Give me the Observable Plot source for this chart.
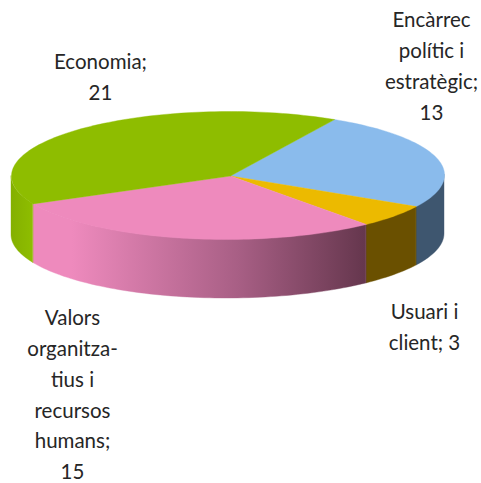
<!DOCTYPE html>
<html>
<head>
<meta charset="utf-8">
<script src="https://cdn.jsdelivr.net/npm/d3@7"></script>
<script src="https://cdn.jsdelivr.net/npm/@observablehq/plot@0.6"></script>
<style>html,body{margin:0;padding:0;background:#fff}svg{display:block}</style>
</head>
<body>
<div id="chart"></div>
<script>
// Data, in drawing order clockwise from the start angle
const categories = ["Encàrrec polític i estratègic", "Usuari i client", "Valors organitza-tius i recursos humans", "Economia"];
const values = [13, 3, 15, 21];
const topColors = ["#8abbec", "#ecba00", "#ee8abd", "#8ebd00"];
const wallColors = ["#3e566f", "#6a5000", "url(#pinkWall)", "url(#greenWall)"];
const labelTexts = [
  "Encàrrec\npolític i\nestratègic;\n13",
  "Usuari i\nclient; 3",
  "Valors\norganitza-\ntius i\nrecursos\nhumans;\n15",
  "Economia;\n21"
];
const labelX = [431, 424, 72, 100];
const labelY = [5, 297, 303, 47];

// View of the 3D pie
const W = 481, H = 483;
const cx = 227.5, cy = 175, rx = 216.5, ry = 64, depth = 59, skew = 0.5, startDeg = 29.5;
const rad = d => d * Math.PI / 180;
const rimX = d => cx + rx * Math.sin(rad(d));
const rimY = d => cy - ry * Math.cos(rad(d)) - skew * Math.sin(rad(d));

const total = d3.sum(values);
let acc = 0;
const slices = values.map((v, i) => {
  const a0 = startDeg + acc / total * 360;
  acc += v;
  const a1 = startDeg + acc / total * 360;
  return {i, a0, a1};
});
const arc = (a0, a1) => {
  const n = Math.max(2, Math.ceil((a1 - a0) / 1.5));
  return d3.range(n + 1).map(k => a0 + (a1 - a0) * k / n);
};

const marks = [];
marks.push(() => {
  const defs = d3.create("svg:defs");
  const grad = (id, x1, x2, stops) => {
    const g = defs.append("linearGradient").attr("id", id)
      .attr("gradientUnits", "userSpaceOnUse")
      .attr("x1", x1).attr("x2", x2).attr("y1", 0).attr("y2", 0);
    stops.forEach(([o, c]) => g.append("stop").attr("offset", o).attr("stop-color", c));
  };
  grad("pinkWall", 32, 364, [[0, "#ee8abd"], [0.12, "#ee8abd"], [0.62, "#a85f85"], [1, "#66374e"]]);
  grad("greenWall", 11, 32, [[0, "#84b000"], [1, "#8ebd00"]]);
  return defs.node();
});

// Side walls: the part of each slice on the front half of the pie
slices.forEach(s => {
  const a0 = Math.max(s.a0, 90), a1 = Math.min(s.a1, 270);
  if (a1 <= a0) return;
  const pts = arc(a0, a1).map(a => ({x: rimX(a), y1: rimY(a), y2: rimY(a) + depth}));
  marks.push(Plot.areaY(pts, {x: "x", y1: "y1", y2: "y2", fill: wallColors[s.i], stroke: wallColors[s.i], strokeWidth: 0.4}));
});

// Top faces
const apexX = cx + 2.5, apexY = cy + 0.5;
slices.forEach(s => {
  const pts = [{x: apexX, y: apexY}, ...arc(s.a0, s.a1).map(a => ({x: rimX(a), y: rimY(a)})), {x: apexX, y: apexY}];
  marks.push(Plot.line(pts, {x: "x", y: "y", fill: topColors[s.i], stroke: topColors[s.i], strokeWidth: 0.4, curve: "linear"}));
});

// Labels
const labels = labelTexts.map((t, i) => ({t, x: labelX[i], y: labelY[i]}));
marks.push(Plot.text(labels, {
  x: "x", y: "y", text: "t", textAnchor: "middle", lineAnchor: "top", lineHeight: 1.5,
  fontFamily: "Lato, sans-serif", fontSize: 20.5, fill: "#262626"
}));

const chart = Plot.plot({
  width: W, height: H,
  marginTop: 0, marginRight: 0, marginBottom: 0, marginLeft: 0,
  style: {background: "#fff"},
  x: {domain: [0, W], range: [0, W], axis: null},
  y: {domain: [0, H], range: [0, H], axis: null},
  marks
});
document.getElementById("chart").append(chart);
</script>
</body>
</html>
